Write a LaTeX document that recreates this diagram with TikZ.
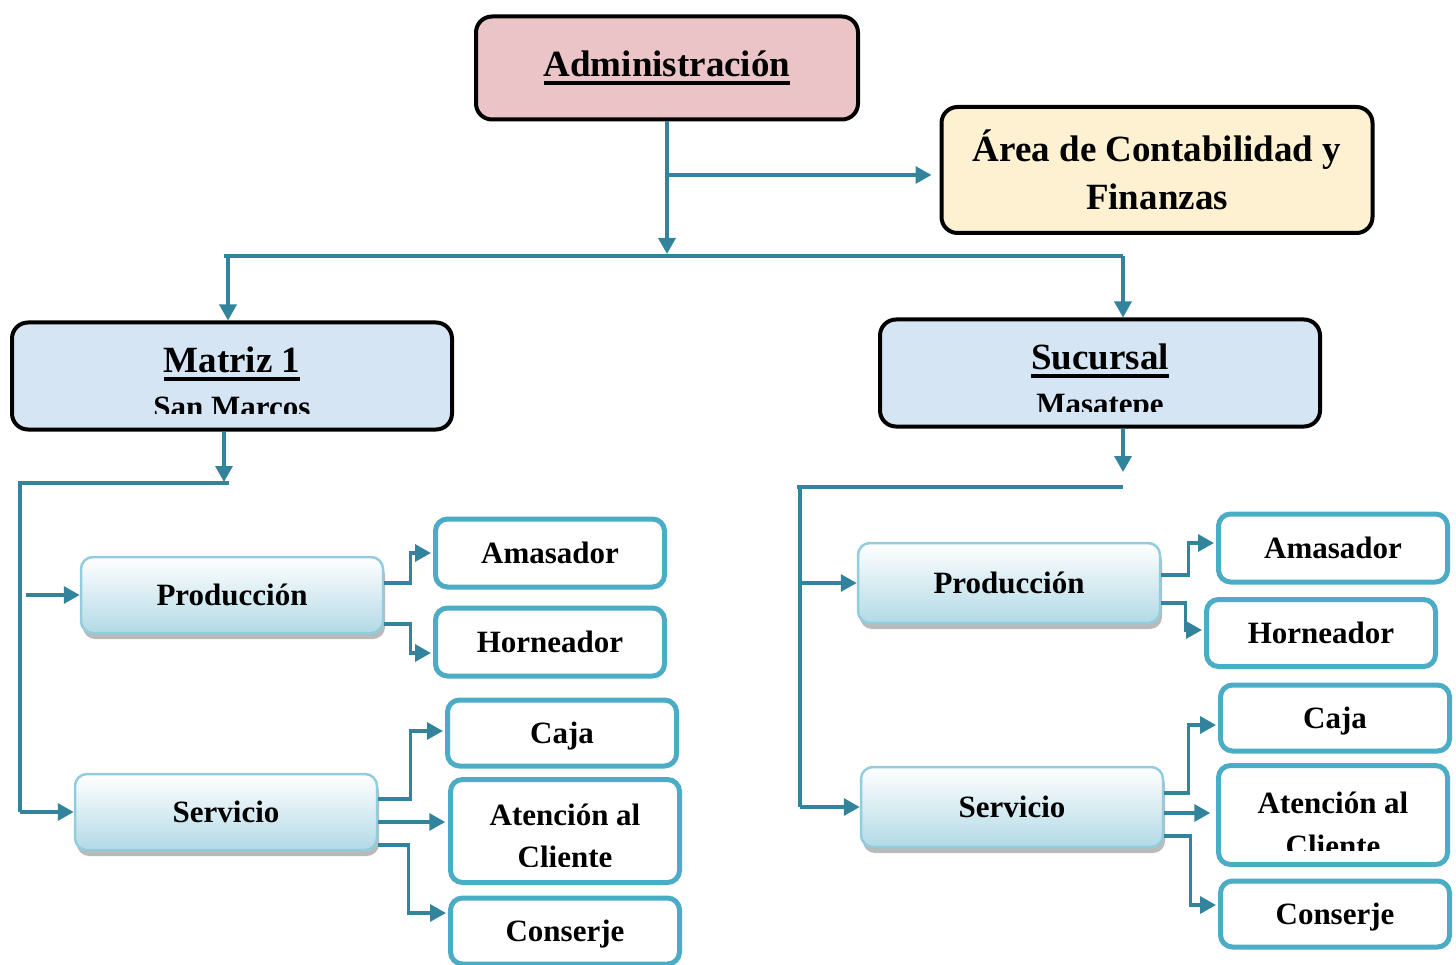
\documentclass[tikz,border=0pt]{standalone}
\usepackage{fontspec}
\setmainfont{Liberation Serif}
\usetikzlibrary{arrows.meta}
\usetikzlibrary{shadows}

\definecolor{linkteal}{RGB}{49,132,155}
\definecolor{leafaqua}{RGB}{75,172,198}
\definecolor{adminpink}{RGB}{235,196,200}
\definecolor{areacream}{RGB}{253,241,209}
\definecolor{branchblue}{RGB}{214,229,244}
\definecolor{deptblue}{RGB}{178,218,230}
\definecolor{deptedge}{RGB}{146,205,222}

\newcommand{\hdrfont}{\fontsize{37}{48}\selectfont\bfseries}
\newcommand{\leaffont}{\fontsize{31}{42}\selectfont\bfseries}
\newcommand{\ulbox}[1]{\setbox0=\hbox{#1}\rlap{\copy0}\rule[-8pt]{\wd0}{3.5pt}}

\begin{document}
\begin{tikzpicture}[x=1pt, y=-1pt,
    hdrbox/.style={draw=black, line width=4pt, rounded corners=16pt, inner sep=0pt},
    leaf/.style={draw=leafaqua, line width=5pt, fill=white, rounded corners=12pt,
        minimum width=229pt, minimum height=66pt, font=\leaffont, inner sep=0pt, text depth=0pt},
    leaftxt/.style={font=\leaffont, inner sep=0pt},
    dept/.style={draw=deptedge, line width=2.5pt, rounded corners=12pt,
        top color=white, bottom color=deptblue,
        drop shadow={shadow xshift=2pt, shadow yshift=-6pt, fill=black!45, opacity=0.6},
        minimum width=302pt, minimum height=76pt, font=\leaffont, inner sep=0pt},
    conn/.style={draw=linkteal, line width=3.5pt},
    arr/.style={conn, -{Triangle[length=16pt,width=17pt]}}]

    \useasboundingbox (0,0) rectangle (1456,965);

    % top level
    \node[hdrbox, fill=adminpink, minimum width=382pt, minimum height=103pt, font=\hdrfont] (admin) at (667,68) {\ulbox{Administración}};
    \node[hdrbox, fill=areacream, minimum width=431pt, minimum height=126pt, font=\hdrfont, align=center] (area) at (1157,170) {Área de Contabilidad y\\Finanzas};

    % branches
    \node[hdrbox, fill=branchblue, minimum width=440pt, minimum height=107pt] (matriz) at (232,376) {};
    \node[hdrbox, fill=branchblue, minimum width=440pt, minimum height=107pt] (sucursal) at (1100,373) {};
    \node[font=\hdrfont, anchor=base, inner sep=0pt] (matriz_title) at (232,373) {\ulbox{Matriz 1}};
    \node[font=\hdrfont, anchor=base, inner sep=0pt] (sucursal_title) at (1100,370) {\ulbox{Sucursal}};
    \begin{scope}
        \clip (30,385) rectangle (440,413);
        \node[leaftxt, anchor=base] (matriz_place) at (232,417) {San Marcos};
    \end{scope}
    \begin{scope}
        \clip (900,385) rectangle (1300,411);
        \node[leaftxt, anchor=base] (sucursal_place) at (1100,414) {Masatepe};
    \end{scope}

    % departments
    \node[dept] (prod_l) at (232,595) {Producción};
    \node[dept] (serv_l) at (226,812) {Servicio};
    \node[dept, minimum height=80pt] (prod_r) at (1009,583) {Producción};
    \node[dept, minimum height=80pt] (serv_r) at (1012,807) {Servicio};

    % positions, left side
    \node[leaf, minimum height=68pt] (amas_l) at (550,553) {Amasador};
    \node[leaf, minimum height=68pt] (horn_l) at (550,642) {Horneador};
    \node[leaf] (caja_l) at (562,733) {Caja};
    \node[leaf, minimum height=103pt] (aten_l) at (565,831) {};
    \node[leaf] (cons_l) at (565,931) {Conserje};
    \node[leaftxt, anchor=base] (aten_l_top) at (565,825) {Atención al};
    \begin{scope}
        \clip (455,830) rectangle (675,866);
        \node[leaftxt, anchor=base] (aten_l_bottom) at (565,867) {Cliente};
    \end{scope}

    % positions, right side
    \node[leaf, minimum height=68pt] (amas_r) at (1333,548) {Amasador};
    \node[leaf, minimum height=67pt] (horn_r) at (1321,633) {Horneador};
    \node[leaf] (caja_r) at (1335,718) {Caja};
    \node[leaf, minimum height=99pt] (aten_r) at (1333,815) {};
    \node[leaf] (cons_r) at (1335,914) {Conserje};
    \node[leaftxt, anchor=base] (aten_r_top) at (1333,813) {Atención al};
    \begin{scope}
        \clip (1225,820) rectangle (1440,850);
        \node[leaftxt, anchor=base] (aten_r_bottom) at (1333,856) {Cliente};
    \end{scope}

    % connectors, top
    \coordinate (bus_left) at (228,256);
    \coordinate (bus_right) at (1123,256);
    \coordinate (bus_end) at (224,256);
    \coordinate (area_join) at (667,175);
    \draw[arr, shorten >=2pt] (admin.south) -- (admin.south |- bus_left);
    \draw[arr, shorten >=8pt] (area_join) -- (area_join -| area.west);
    \draw[conn] (bus_end) -- (bus_right);
    \draw[arr] (bus_left) -- (bus_left |- matriz.north);
    \draw[arr] (bus_right) -- (bus_right |- sucursal.north);

    % connectors, left
    \coordinate (matriz_drop) at (224,483);
    \coordinate (matriz_bar) at (229,483);
    \coordinate (rail_left) at (20,483);
    \coordinate (rail_left_gap) at (26,483);
    \draw[arr, shorten >=1pt] (matriz_drop |- matriz.south) -- (matriz_drop);
    \draw[conn] (matriz_bar) -- (rail_left) -- (rail_left |- serv_l.west);
    \draw[arr] (rail_left_gap |- prod_l.west) -- (prod_l.west);
    \draw[arr] (rail_left |- serv_l.west) -- (serv_l.west);
    \draw[arr, shorten >=2pt] ([yshift=12pt]prod_l.east) -- ++(26,0) |- (amas_l.west);
    \draw[arr, shorten >=2pt] ([yshift=-29pt]prod_l.east) -- ++(26,0) |- ([yshift=-11pt]horn_l.west);
    \draw[arr, shorten >=2pt] ([yshift=13pt]serv_l.east) -- ++(32,0) |- ([yshift=2pt]caja_l.west);
    \draw[arr, shorten >=2pt] ([yshift=-10pt]serv_l.east) -- ++(69,0);
    \draw[arr, shorten >=2pt] ([yshift=-33pt]serv_l.east) -- ++(30,0) |- ([yshift=18pt]cons_l.west);

    % connectors, right
    \coordinate (suc_drop) at (1123,472);
    \coordinate (suc_bar) at (1123,487);
    \coordinate (rail_right) at (800,487);
    \coordinate (rail_right_end) at (797,487);
    \draw[arr] (suc_drop |- sucursal.south) -- (suc_drop);
    \draw[conn] (suc_bar) -- (rail_right_end);
    \draw[conn] (rail_right) -- (rail_right |- serv_r.west);
    \draw[arr] (rail_right |- prod_r.west) -- (prod_r.west);
    \draw[arr] (rail_right |- serv_r.west) -- (serv_r.west);
    \draw[arr, shorten >=2pt] ([yshift=8pt]prod_r.east) -- ++(27,0) |- ([yshift=5pt]amas_r.west);
    \draw[arr, shorten >=2pt] ([yshift=-20pt]prod_r.east) -- ++(24,0) |- ([yshift=3pt]horn_r.west);
    \draw[arr, shorten >=2pt] ([yshift=14pt]serv_r.east) -- ++(24,0) |- ([yshift=-7pt]caja_r.west);
    \draw[arr, shorten >=2pt] ([yshift=-6pt]serv_r.east) -- ++(48,0);
    \draw[arr, shorten >=2pt] ([yshift=-29pt]serv_r.east) -- ++(26,0) |- ([yshift=9pt]cons_r.west);
\end{tikzpicture}
\end{document}
